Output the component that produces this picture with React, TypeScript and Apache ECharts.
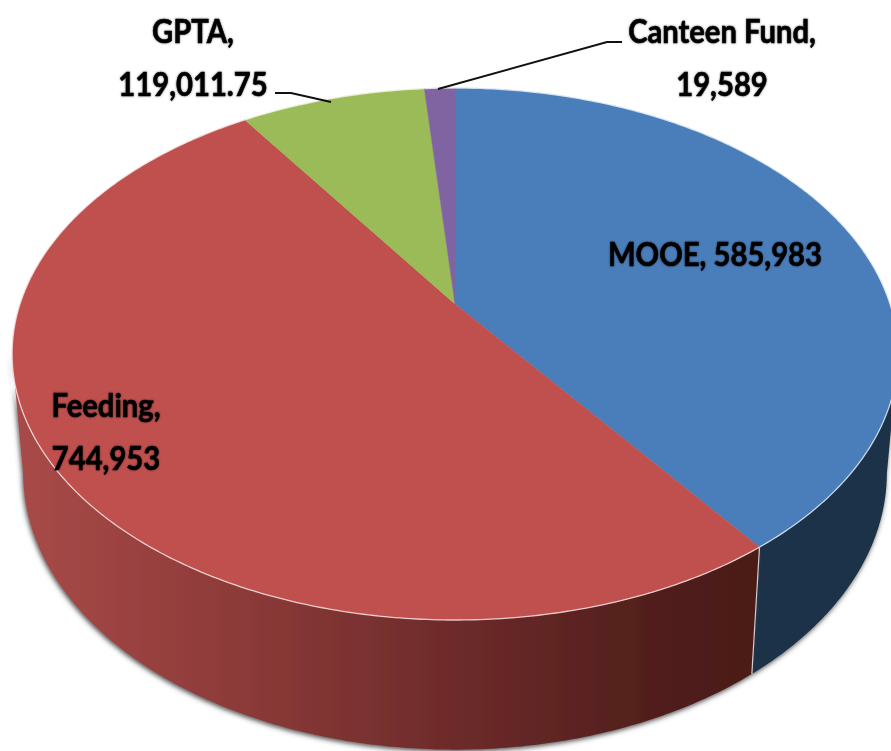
import React, { useEffect, useRef } from "react";
import * as echarts from "echarts";

const categories = ["MOOE", "Feeding", "GPTA", "Canteen Fund"];
const amounts = [585983, 744953, 119011.75, 19589];
const faceColors = ["#4a7ebb", "#c0504d", "#9bbb59", "#8064a2"];

const total = amounts.reduce((a, b) => a + b, 0);
const startAngle = (i: number) =>
  (amounts.slice(0, i).reduce((a, b) => a + b, 0) / total) * Math.PI * 2;

// perspective disc
const CX = 455, CY = 304, R = 435, B = 256.6, K = 0.188;
const project = (t: number) => {
  const X = Math.sin(t), Z = Math.cos(t), d = 1 + K * Z;
  return [R * X / d, -B * Z / d];
};
const topPt = (t: number) => {
  const [x, y] = project(t);
  return [CX + x, CY + y];
};
const botPt = (t: number) => {
  const [x, y] = project(t);
  return [CX + x * 0.975, 421 + y * 1.04];
};
const arc = (a: number, b: number, f: (t: number) => number[]) => {
  const n = Math.max(2, Math.ceil(Math.abs(b - a) / 0.01));
  const out: number[][] = [];
  for (let i = 0; i <= n; i++) out.push(f(a + ((b - a) * i) / n));
  return out;
};

const WALL_RIGHT = (101 / 180) * Math.PI;
const WALL_LEFT = (259 / 180) * Math.PI;

const wallFill = (i: number) =>
  i === 0
    ? "#1a3049"
    : new echarts.graphic.LinearGradient(20, 0, 760, 0, [
        { offset: 0, color: "#a84a48" },
        { offset: 0.3, color: "#8c3a38" },
        { offset: 0.6, color: "#6c2a2a" },
        { offset: 0.85, color: "#521f1c" },
        { offset: 1, color: "#4a1b17" },
      ], true);

const renderWall = (params: any) => {
  const i = params.dataIndex;
  const a = Math.max(startAngle(i), WALL_RIGHT);
  const b = Math.min(startAngle(i + 1), WALL_LEFT);
  if (b <= a) return { type: "group", children: [] };
  const top = arc(a, b, topPt);
  const bot = arc(a, b, botPt).reverse();
  const shape: any = { type: "polygon", shape: { points: top.concat(bot) } };
  const children: any[] = [
    {
      ...shape,
      style: { fill: wallFill(i), shadowColor: "rgba(60,60,60,0.9)", shadowBlur: 5, shadowOffsetX: -1, shadowOffsetY: 2 },
    },
  ];
  if (i === 1) {
    children.push({
      type: "line",
      shape: { x1: topPt(a)[0], y1: topPt(a)[1], x2: botPt(a)[0], y2: botPt(a)[1] },
      style: { stroke: "rgba(255,255,255,0.75)", lineWidth: 1.2 },
    });
  }
  return { type: "group", children };
};

const renderFace = (params: any) => {
  const i = params.dataIndex;
  const a = startAngle(i), b = startAngle(i + 1);
  const rim = arc(a, b, topPt);
  return {
    type: "group",
    children: [
      {
        type: "polygon",
        shape: { points: [[CX, CY], ...rim] },
        style: { fill: faceColors[i], stroke: faceColors[i], lineWidth: 0.5 },
      },
      {
        type: "polyline",
        shape: { points: rim },
        style: { fill: "none", stroke: "rgba(255,255,255,0.7)", lineWidth: 1.3 },
      },
    ],
  };
};

const labelText = (i: number, sep: string) =>
  `${categories[i]},${sep}${amounts[i].toLocaleString("en-US")}`;

const textStyle = (text: string) => ({
  text,
  fill: "#000",
  stroke: "#000",
  lineWidth: 0.6,
  font: "bold 33px Lato, sans-serif",
  textAlign: "center",
  textVerticalAlign: "middle",
  lineHeight: 53,
  textShadowColor: "rgba(0,0,0,0.5)",
  textShadowBlur: 2,
});

const TEXT_SQUEEZE = 0.885;

export default function App() {
  const ref = useRef<HTMLDivElement>(null);
  useEffect(() => {
    const chart = echarts.init(ref.current!, undefined, { renderer: "svg" });
    chart.setOption({
      animation: false,
      backgroundColor: "#fff",
      series: [
        { type: "custom", coordinateSystem: "none", silent: true, z: 1, data: amounts, renderItem: renderWall },
        { type: "custom", coordinateSystem: "none", silent: true, z: 2, data: amounts, renderItem: renderFace },
      ],
      graphic: [
        { type: "text", x: 193, y: 57, z: 10, scaleX: TEXT_SQUEEZE, style: textStyle(labelText(2, "\n")) },
        { type: "text", x: 722, y: 57, z: 10, scaleX: TEXT_SQUEEZE, style: textStyle(labelText(3, "\n")) },
        { type: "text", x: 715, y: 253, z: 10, scaleX: TEXT_SQUEEZE, style: textStyle(labelText(0, " ")) },
        { type: "text", x: 106, y: 431, z: 10, scaleX: TEXT_SQUEEZE, style: textStyle(labelText(1, "\n")) },
        {
          type: "polyline", z: 10,
          shape: { points: [[275, 93], [291, 93], [331, 102]] },
          style: { fill: "none", stroke: "#111", lineWidth: 2 },
        },
        {
          type: "polyline", z: 10,
          shape: { points: [[438, 89], [607, 42], [622, 42]] },
          style: { fill: "none", stroke: "#111", lineWidth: 2 },
        },
      ],
    });
    return () => chart.dispose();
  }, []);
  return <div ref={ref} style={{ position: "absolute", left: 0, top: 0, width: 891, height: 751 }} />;
}
